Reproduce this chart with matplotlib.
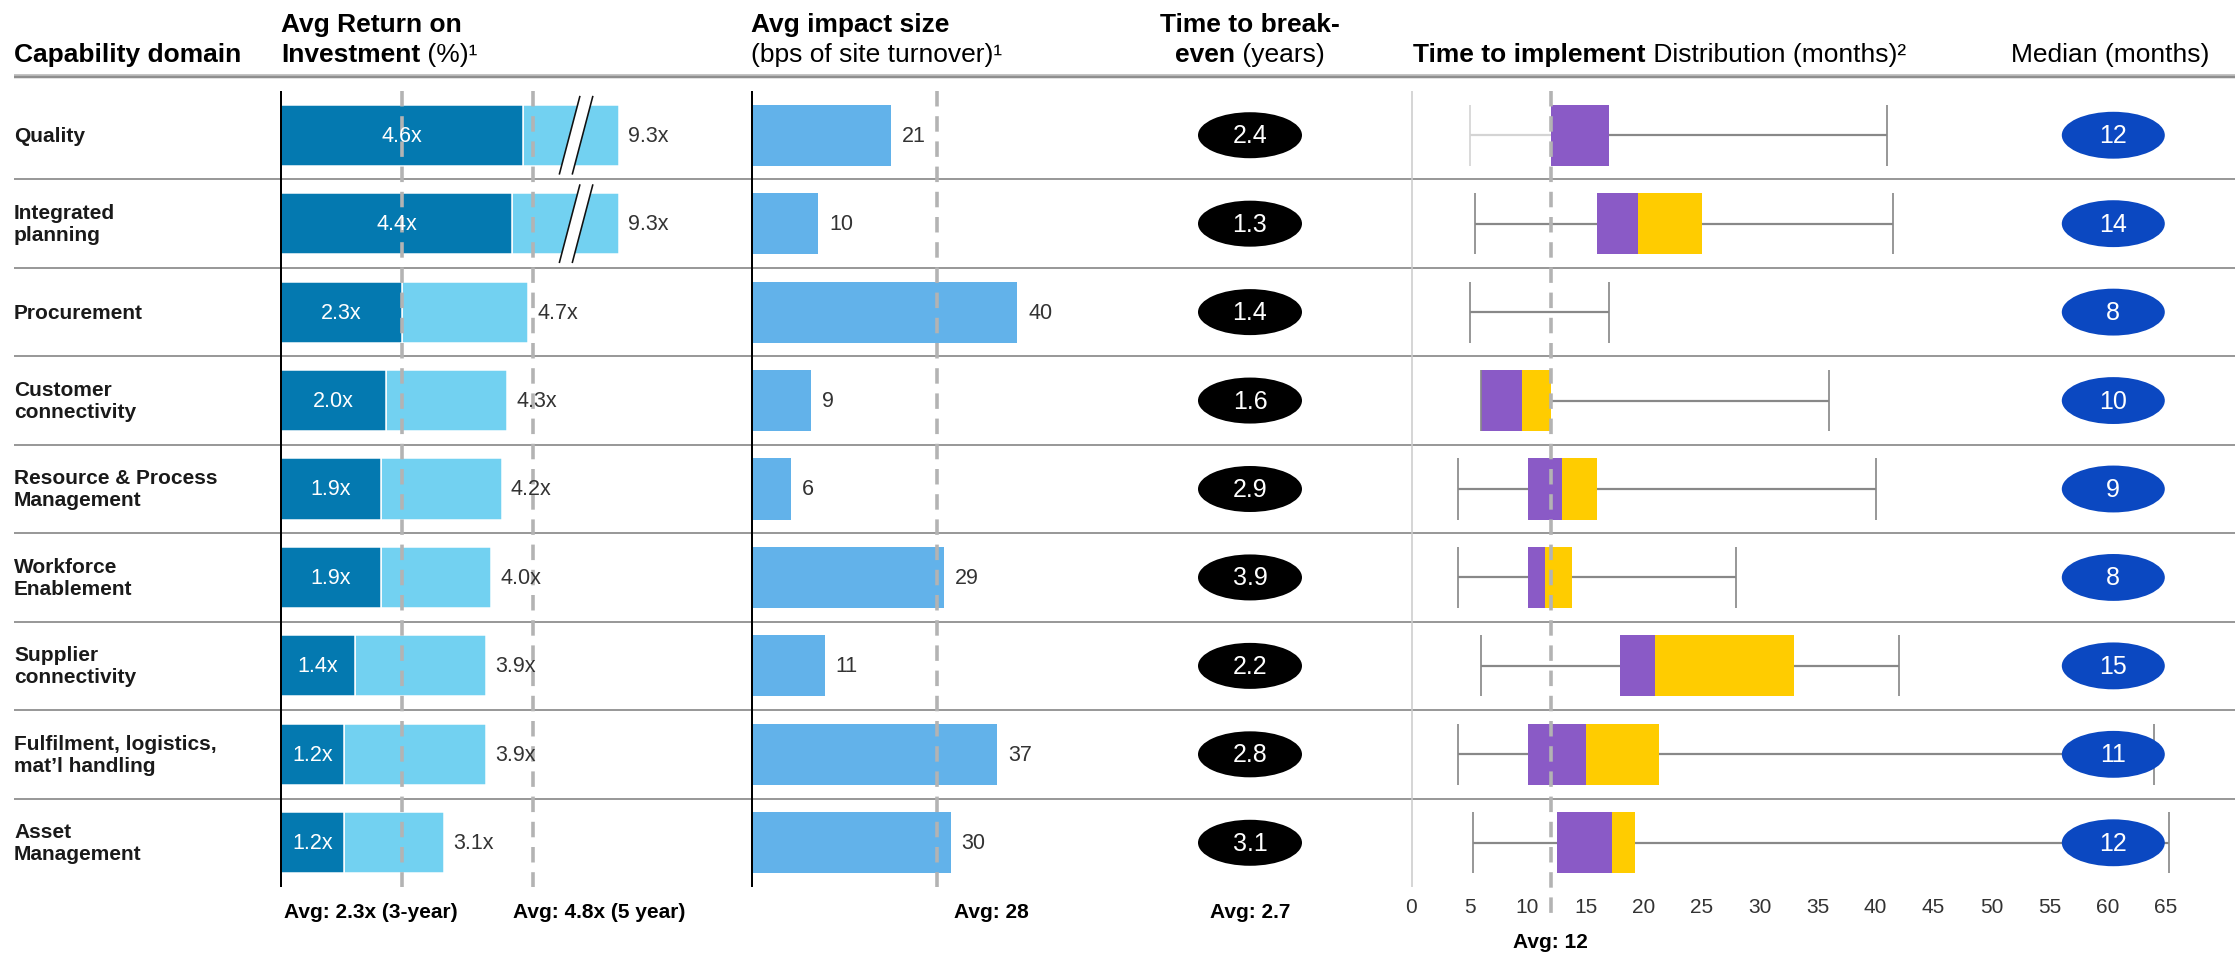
import numpy as np
import matplotlib
matplotlib.use("Agg")
import matplotlib.pyplot as plt
from matplotlib.patches import Ellipse, Polygon

plt.rcParams['font.family'] = ['Liberation Sans', 'DejaVu Sans']

# ---------------------------------------------------------------- data
domains = ["Quality", "Integrated\nplanning", "Procurement", "Customer\nconnectivity",
           "Resource & Process\nManagement", "Workforce\nEnablement",
           "Supplier\nconnectivity", "Fulfilment, logistics,\nmat\u2019l handling",
           "Asset\nManagement"]
roi_3yr = [4.6, 4.4, 2.3, 2.0, 1.9, 1.9, 1.4, 1.2, 1.2]
roi_5yr = [9.3, 9.3, 4.7, 4.3, 4.2, 4.0, 3.9, 3.9, 3.1]
impact_bps = [21, 10, 40, 9, 6, 29, 11, 37, 30]
breakeven_years = [2.4, 1.3, 1.4, 1.6, 2.9, 3.9, 2.2, 2.8, 3.1]

nan = np.nan
impl_min = [5, 5.5, 5, 6, 4, 4, 6, 4, 5.3]
impl_q1 = [12, 16, nan, 6, 10, 10, 18, 10, 12.5]
impl_mid = [17, 19.5, nan, 9.5, 13, 11.5, 21, 15, 17.3]
impl_q3 = [17, 25, nan, 12, 16, 13.8, 33, 21.3, 19.3]
impl_max = [41, 41.5, 17, 36, 40, 28, 42, 64, 65.3]
impl_median = [12, 14, 8, 10, 9, 8, 15, 11, 12]
impl_faint_low = ["Quality"]          # lower whisker shown faded
impl_ticks = list(range(0, 70, 5))

roi_avg_3yr, roi_avg_5yr = 2.3, 4.8
impact_avg = 28
breakeven_avg = 2.7
impl_avg = 12

# ---------------------------------------------------------------- style
DARK_BLUE = '#0479B0'
LIGHT_BLUE = '#72D1F1'
IMPACT_BLUE = '#62B2EA'
PURPLE = '#8A5AC6'
YELLOW = '#FFCC00'
MEDIAN_BLUE = '#0B48C1'
SEP_GRAY = '#999999'
DASH_GRAY = '#B3B3B3'
WHISKER = '#888888'
VALUE_TXT = '#333333'

W, H, DPI = 2235, 954, 100
ROW_TOP, ROW_BOTTOM = 92, 888
n = len(domains)
ROW_H = (ROW_BOTTOM - ROW_TOP) / n
BAR_H = 0.69
PT = 72 / DPI                     # points per pixel
DASH = (0, (4.3, 2.7))
DASH_LW = 3.6 * PT

fig = plt.figure(figsize=(W / DPI, H / DPI), dpi=DPI)
fig.patch.set_facecolor('white')


def ry(px):
    """Figure pixel row -> row units used by every panel."""
    return (px - ROW_TOP) / ROW_H


def px_axes(left_px, right_px, zero_px, px_per_unit, off=True):
    ax = fig.add_axes([left_px / W, 1 - ROW_BOTTOM / H,
                       (right_px - left_px) / W, (ROW_BOTTOM - ROW_TOP) / H])
    ax.set_xlim((left_px - zero_px) / px_per_unit, (right_px - zero_px) / px_per_unit)
    ax.set_ylim(n, 0)
    ax.patch.set_alpha(0)
    if off:
        ax.axis('off')
    return ax


y = np.arange(n) + 0.5

# ---------------------------------------------------------------- background, separators, headers
ax_bg = px_axes(0, W, 0, 1)
ax_bg.hlines(np.arange(1, n), 14, W, colors=SEP_GRAY, lw=2 * PT, zorder=1)
ax_bg.hlines(ry(76), 14, W, colors='#c4c4c4', lw=2 * PT, clip_on=False)
ax_bg.hlines(ry(78), 14, W, colors='#8e8e8e', lw=2.5 * PT, clip_on=False)

for yi, name in zip(y, domains):
    ax_bg.text(14, yi, name, fontsize=15, fontweight='bold', ha='left', va='center',
               linespacing=1.2, color='#1a1a1a')

renderer = fig.canvas.get_renderer()


def rich(x, ypx, parts, size=19, ha='left'):
    texts = [ax_bg.text(x, ry(ypx), s, fontsize=size, fontweight=wt, ha='left',
                        va='center', color='black', clip_on=False) for s, wt in parts]
    widths = [t.get_window_extent(renderer).width for t in texts]
    cur = x - sum(widths) / 2 if ha == 'center' else x
    for t, w in zip(texts, widths):
        t.set_x(cur)
        cur += w


rich(14, 55, [("Capability domain", 'bold')])
rich(281, 25, [("Avg Return on", 'bold')])
rich(281, 55, [("Investment", 'bold'), (" (%)\u00b9", 'normal')])
rich(751, 25, [("Avg impact size", 'bold')])
rich(751, 55, [("(bps of site turnover)\u00b9", 'normal')])
rich(1250, 25, [("Time to break-", 'bold')], ha='center')
rich(1250, 55, [("even", 'bold'), (" (years)", 'normal')], ha='center')
rich(1413, 55, [("Time to implement", 'bold'), (" Distribution (months)\u00b2", 'normal')])
rich(2110, 55, [("Median (months)", 'normal')], ha='center')

FOOT_Y = ry(913)

# ---------------------------------------------------------------- panel 1: ROI
ROI_PPU = 52.6
ROI_CAP = 6.43            # drawn length of off-scale bars (axis break)
ax1 = px_axes(250, 745, 281, ROI_PPU)
roi_end = np.minimum(roi_5yr, ROI_CAP)
ax1.barh(y, roi_end - np.array(roi_3yr), left=roi_3yr, height=BAR_H, color=LIGHT_BLUE,
         edgecolor='white', linewidth=1.5 * PT, zorder=2)
ax1.barh(y, roi_3yr, height=BAR_H, color=DARK_BLUE, edgecolor='white',
         linewidth=1.5 * PT, zorder=2)
for yi, v3, v5, e in zip(y, roi_3yr, roi_5yr, roi_end):
    ax1.text(v3 / 2, yi, f"{v3:.1f}x", color='white', fontsize=15.5, ha='center',
             va='center', zorder=6)
    ax1.annotate(f"{v5:.1f}x", xy=(e, yi), xytext=(9 * PT, 0), textcoords='offset points',
                 fontsize=15.5, color=VALUE_TXT, ha='left', va='center', zorder=6)
    if v5 > ROI_CAP:
        bx, gap, sl, ext = 5.61, 0.123, 0.197, 0.445
        top, bot = yi - ext, yi + ext
        ax1.add_patch(Polygon([(bx - gap + sl, top), (bx + gap + sl, top),
                               (bx + gap - sl, bot), (bx - gap - sl, bot)],
                              closed=True, facecolor='white', edgecolor='none', zorder=4))
        for s in (-gap, gap):
            ax1.plot([bx + s + sl, bx + s - sl], [top, bot], color='#111111',
                     lw=1.6 * PT, zorder=5, solid_capstyle='butt')
ax1.vlines([roi_avg_3yr, roi_avg_5yr], 0, n, colors=DASH_GRAY, lw=DASH_LW,
           linestyles=[DASH], zorder=3)
ax1.vlines(0, 0, n, colors='black', lw=2 * PT, zorder=5)
ax1.text(3 / ROI_PPU, FOOT_Y, f"Avg: {roi_avg_3yr:.1f}x (3-year)",
         fontsize=15, fontweight='bold', ha='left', va='center')
ax1.text((513 - 281) / ROI_PPU, FOOT_Y, f"Avg: {roi_avg_5yr:.1f}x (5 year)",
         fontsize=15, fontweight='bold', ha='left', va='center')

# ---------------------------------------------------------------- panel 2: impact size
ax2 = px_axes(740, 1120, 751.5, 6.64)
ax2.barh(y, impact_bps, height=BAR_H, color=IMPACT_BLUE, zorder=2)
for yi, v in zip(y, impact_bps):
    ax2.annotate(f"{v}", xy=(v, yi), xytext=(11 * PT, 0), textcoords='offset points',
                 fontsize=15.5, color=VALUE_TXT, ha='left', va='center', zorder=6)
ax2.vlines(impact_avg, 0, n, colors=DASH_GRAY, lw=DASH_LW, linestyles=[DASH], zorder=3)
ax2.vlines(0, 0, n, colors='black', lw=2 * PT, zorder=5)
ax2.annotate(f"Avg: {impact_avg}", xy=(impact_avg, FOOT_Y), xytext=(17 * PT, 0),
             textcoords='offset points', fontsize=15, fontweight='bold',
             ha='left', va='center', annotation_clip=False)

# ---------------------------------------------------------------- panel 3: break-even
ax3 = px_axes(1140, 1360, 1250, 1.0)
for yi, v in zip(y, breakeven_years):
    ax3.add_patch(Ellipse((0, yi), 104, 0.52, facecolor='black', edgecolor='none', zorder=3))
    ax3.text(0, yi, f"{v:.1f}", color='white', fontsize=18, ha='center', va='center', zorder=4)
ax3.text(0, FOOT_Y, f"Avg: {breakeven_avg:.1f}", fontsize=15, fontweight='bold',
         ha='center', va='center')

# ---------------------------------------------------------------- panel 4: time to implement
ax4 = px_axes(1380, W, 1411.5, 11.6, off=False)
for sp in ax4.spines.values():
    sp.set_visible(False)
ax4.set_yticks([])
ax4.set_xticks(impl_ticks)
ax4.tick_params(axis='x', length=0, labelsize=15, labelcolor=VALUE_TXT, pad=7)
ax4.vlines(0, 0, n, colors='#cccccc', lw=1.6 * PT, zorder=1)

half = BAR_H / 2
for name, yi, lo, q1, md, q3, hi in zip(domains, y, impl_min, impl_q1, impl_mid,
                                        impl_q3, impl_max):
    low_col = '#d4d4d4' if name in impl_faint_low else WHISKER
    if np.isnan(q1):
        ax4.hlines(yi, lo, hi, colors=WHISKER, lw=2.2 * PT, zorder=2)
    else:
        ax4.hlines(yi, lo, q1, colors=low_col, lw=2.2 * PT, zorder=2)
        ax4.hlines(yi, q3, hi, colors=WHISKER, lw=2.2 * PT, zorder=2)
        ax4.barh(yi, md - q1, left=q1, height=BAR_H, color=PURPLE, zorder=3)
        if q3 > md:
            ax4.barh(yi, q3 - md, left=md, height=BAR_H, color=YELLOW, zorder=3)
    ax4.vlines(lo, yi - half, yi + half, colors=low_col, lw=1.7 * PT, zorder=4)
    ax4.vlines(hi, yi - half, yi + half, colors=WHISKER, lw=1.7 * PT, zorder=2)

ax4.vlines(impl_avg, 0, ry(920), colors=DASH_GRAY, lw=DASH_LW, linestyles=[DASH],
           zorder=5, clip_on=False)
ax4.text(impl_avg, ry(943), f"Avg: {impl_avg}", fontsize=15, fontweight='bold',
         ha='center', va='center')

MED_X = 60.5
for yi, v in zip(y, impl_median):
    ax4.add_patch(Ellipse((MED_X, yi), 8.88, 0.53, facecolor=MEDIAN_BLUE,
                          edgecolor='none', zorder=6))
    ax4.text(MED_X, yi, f"{v}", color='white', fontsize=18, ha='center', va='center',
             zorder=7)

fig.savefig('out.png', dpi=DPI, facecolor='white')
